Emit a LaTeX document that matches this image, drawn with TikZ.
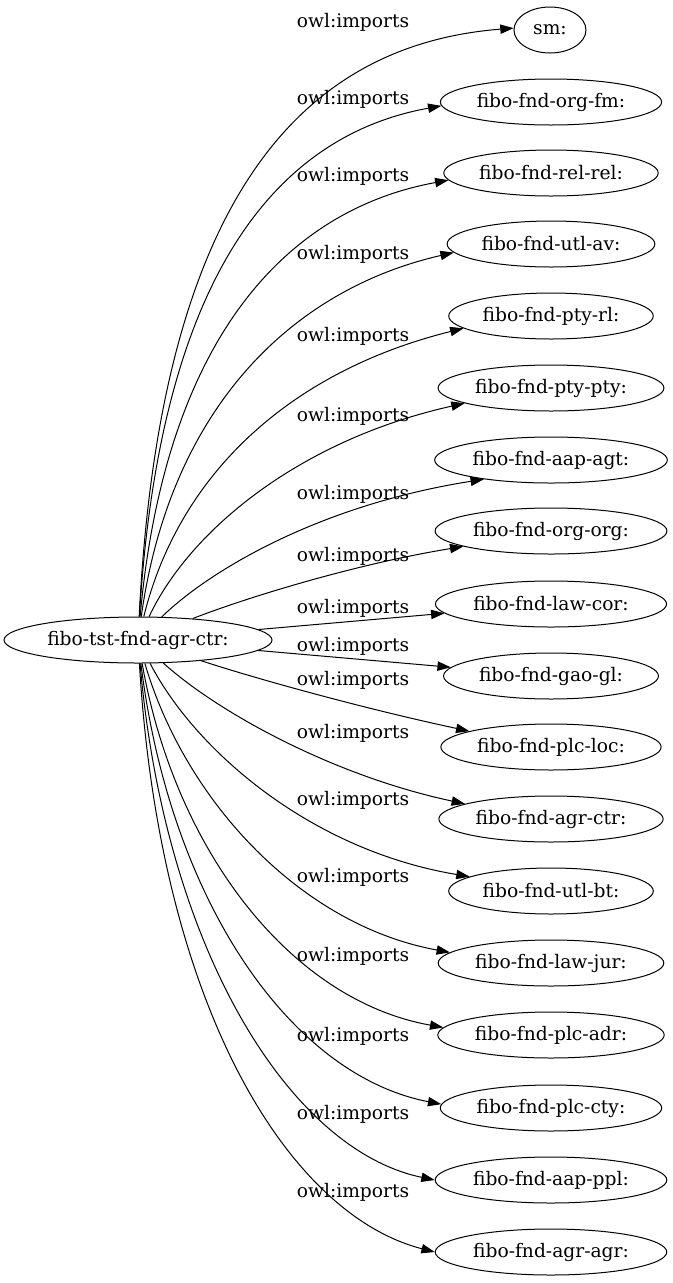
\documentclass[tikz,border=0pt]{standalone}
\usepackage{fontspec}
\setmainfont{DejaVu Serif}
\usetikzlibrary{arrows.meta,shapes.geometric}

\begin{document}
\begin{tikzpicture}[
  x=0.75pt, y=-0.75pt,
  >={Triangle[length=10pt,width=7pt]},
  onto/.style={ellipse,draw,line width=0.75pt,inner xsep=3pt,inner ysep=0pt,
    minimum width=54pt,minimum height=34.5pt,font=\fontsize{14}{17}\selectfont},
  lbl/.style={inner sep=0pt,font=\fontsize{14}{17}\selectfont},
  imp/.style={->,line width=0.75pt},
]
\useasboundingbox (0,0) rectangle (672,1283);

% Source ontology
\node[onto] (src) at (138,640) {fibo-tst-fnd-agr-ctr:};

% Imported ontologies
\node[onto] (sm)     at (550,30)   {sm:};
\node[onto] (orgfm)  at (551,102)  {fibo-fnd-org-fm:};
\node[onto] (relrel) at (551,173)  {fibo-fnd-rel-rel:};
\node[onto] (utlav)  at (551,244)  {fibo-fnd-utl-av:};
\node[onto] (ptyrl)  at (551,316)  {fibo-fnd-pty-rl:};
\node[onto] (ptypty) at (551,388)  {fibo-fnd-pty-pty:};
\node[onto] (aapagt) at (551,460)  {fibo-fnd-aap-agt:};
\node[onto] (orgorg) at (551,531)  {fibo-fnd-org-org:};
\node[onto] (lawcor) at (551,604)  {fibo-fnd-law-cor:};
\node[onto] (gaogl)  at (551,676)  {fibo-fnd-gao-gl:};
\node[onto] (plcloc) at (551,747)  {fibo-fnd-plc-loc:};
\node[onto] (agrctr) at (551,819)  {fibo-fnd-agr-ctr:};
\node[onto] (utlbt)  at (551,891)  {fibo-fnd-utl-bt:};
\node[onto] (lawjur) at (551,963)  {fibo-fnd-law-jur:};
\node[onto] (plcadr) at (551,1035) {fibo-fnd-plc-adr:};
\node[onto] (plccty) at (551,1108) {fibo-fnd-plc-cty:};
\node[onto] (aapppl) at (551,1180) {fibo-fnd-aap-ppl:};
\node[onto] (agragr) at (551,1252) {fibo-fnd-agr-agr:};

% Edge labels
\node[lbl] (l1)  at (353,22)   {owl:imports};
\node[lbl] (l2)  at (353,99)   {owl:imports};
\node[lbl] (l3)  at (353,176)  {owl:imports};
\node[lbl] (l4)  at (353,254)  {owl:imports};
\node[lbl] (l5)  at (353,336)  {owl:imports};
\node[lbl] (l6)  at (353,416)  {owl:imports};
\node[lbl] (l7)  at (353,494)  {owl:imports};
\node[lbl] (l8)  at (353,556)  {owl:imports};
\node[lbl] (l9)  at (353,608)  {owl:imports};
\node[lbl] (l10) at (353,646)  {owl:imports};
\node[lbl] (l11) at (353,680)  {owl:imports};
\node[lbl] (l12) at (353,733)  {owl:imports};
\node[lbl] (l13) at (353,800)  {owl:imports};
\node[lbl] (l14) at (353,877)  {owl:imports};
\node[lbl] (l15) at (353,956)  {owl:imports};
\node[lbl] (l16) at (353,1036) {owl:imports};
\node[lbl] (l17) at (353,1114) {owl:imports};
\node[lbl] (l18) at (353,1192) {owl:imports};

% Import edges, upper fan
\draw[imp] (src) .. controls (160,200) and (300,45) .. (sm.177);
\draw[imp] (src) .. controls (160,270) and (280,135) .. (orgfm.182);
\draw[imp] (src) .. controls (165,340) and (285,210) .. (relrel.184);
\draw[imp] (src) .. controls (170,410) and (290,290) .. (utlav.185);
\draw[imp] (src) .. controls (180,470) and (295,370) .. (ptyrl.188);
\draw[imp] (src) .. controls (190,530) and (300,440) .. (ptypty.190);
\draw[imp] (src) .. controls (210,570) and (320,505) .. (aapagt.196);
\draw[imp] (src) .. controls (240,600) and (350,565) .. (orgorg.190);

% nearly straight ones
\draw[imp] (src) -- (lawcor);
\draw[imp] (src) -- (gaogl);

% Import edges, lower fan
\draw[imp] (src) .. controls (260,680) and (370,710) .. (plcloc.169);
\draw[imp] (src) .. controls (215,710) and (330,775) .. (agrctr.170);
\draw[imp] (src) .. controls (195,750) and (310,850) .. (utlbt.170);
\draw[imp] (src) .. controls (185,800) and (300,925) .. (lawjur.174);
\draw[imp] (src) .. controls (175,850) and (290,1000) .. (plcadr.176);
\draw[imp] (src) .. controls (170,900) and (290,1075) .. (plccty.178);
\draw[imp] (src) .. controls (165,950) and (290,1150) .. (aapppl.180);
\draw[imp] (src) .. controls (160,1010) and (290,1215) .. (agragr.180);

\end{tikzpicture}
\end{document}
